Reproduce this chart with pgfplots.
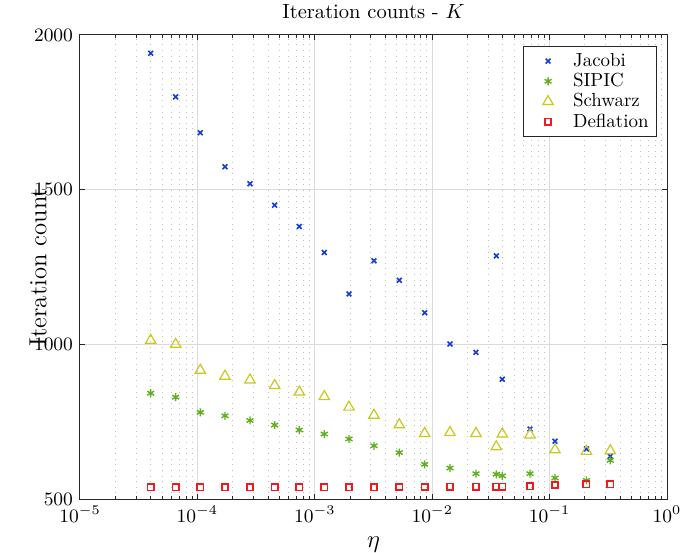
\RequirePackage{fix-cm}
\documentclass[border=0pt]{standalone}
\usepackage{fontspec}
\usepackage{graphicx}
\usepackage{pgfplots}
\pgfplotsset{compat=1.18}

\definecolor{cJac}{RGB}{20,60,210}
\definecolor{cSip}{RGB}{95,175,30}
\definecolor{cSch}{RGB}{200,200,30}
\definecolor{cDef}{RGB}{240,25,30}
\definecolor{axgray}{gray}{0.15}

% marker-only legend images with room on both sides of the mark
\pgfplotsset{
  mklegend/.style={legend image code/.code={%
    \path[draw=none, fill=none] (-10.5bp,-1bp) rectangle (10.5bp,1bp);
    \draw[##1] plot coordinates {(0bp,0bp)};}},
}

% eta, Jacobi, SIPIC, Schwarz, Deflation
\pgfplotstableread{
eta       jac   sip  sch   def
4.00e-5   1941  842  1013  538
6.53e-5   1800  829  1000  538
1.059e-4  1684  780  916   538
1.718e-4  1574  769  897   538
2.805e-4  1519  754  885   538
4.553e-4  1450  739  867   538
7.379e-4  1381  723  846   538
1.204e-3  1297  710  831   538
1.956e-3  1163  694  797   538
3.193e-3  1270  672  771   538
5.245e-3  1207  650  740   539
8.63e-3   1102  612  712   539
1.418e-2  1001  600  715   540
2.36e-2   974   582  712   540
3.516e-2  1286  580  669   540
3.955e-2  887   575  710   540
6.81e-2   726   582  707   541
0.1112    687   568  659   545
0.2062    662   560  654   547
0.3289    638   625  656   548
}\iters

\begin{document}
\begin{tikzpicture}
\path[use as bounding box] (-40bp,-27bp) rectangle (301bp,249.5bp);
\begin{axis}[
  at={(0,0)}, anchor=south west,
  scale only axis, width=293.5bp, height=232bp,
  clip mode=individual,
  xmode=log, xmin=1e-5, xmax=1, ymin=500, ymax=2000,
  ytick={500,1000,1500,2000},
  xtick={1e-5,1e-4,1e-3,1e-2,1e-1,1},
  /pgf/number format/1000 sep={},
  axis line style={axgray, line width=0.5bp},
  every tick/.style={axgray, line width=0.5bp},
  tick align=inside, tick pos=both,
  major tick length=2.6bp, minor tick length=1.5bp,
  xmajorgrids, ymajorgrids, xminorgrids,
  major grid style={gray!28, line width=0.5bp},
  minor grid style={black!25, line width=0.5bp, dash pattern=on 0.5bp off 2.3bp},
  tick label style={font=\fontsize{9.5}{11}\selectfont},
  title={Iteration counts - $K$},
  every axis title/.style={at={(axis description cs:0.5,1.0496)}, anchor=center,
    font=\fontsize{10.3}{12}\selectfont},
  xlabel={$\eta$},
  every axis x label/.style={at={(axis description cs:0.5,-0.0991)}, anchor=center,
    font=\fontsize{12.4}{14}\selectfont},
  legend style={at={(axis description cs:0.983,0.976)}, anchor=north east,
    draw=axgray, line width=0.5bp, fill=white,
    font=\fontsize{9.5}{11}\selectfont, inner xsep=2bp, inner ysep=1.2bp,
    row sep=-2bp},
  legend cell align=left,
  mark options={solid},
]
\addplot[only marks, mklegend, cJac, mark=x, mark size=1.7bp, mark options={line width=0.8bp}] table[x=eta, y=jac] {\iters};
\addlegendentry{Jacobi}
\addplot[only marks, mklegend, cSip, mark=asterisk, mark size=2bp, mark options={line width=0.7bp}] table[x=eta, y=sip] {\iters};
\addlegendentry{SIPIC}
\addplot[only marks, mklegend, cSch, mark=triangle, mark size=3bp, mark options={line width=0.6bp}] table[x=eta, y=sch] {\iters};
\addlegendentry{Schwarz}
\addplot[only marks, mklegend, cDef, mark=square, mark size=1.6bp, mark options={line width=0.8bp}] table[x=eta, y=def] {\iters};
\addlegendentry{Deflation}
\node[anchor=center, inner sep=0pt, font=\fontsize{12.4}{14}\selectfont]
  at (axis description cs:-0.0716,0.5) {\rotatebox{90}{Iteration count}};
\end{axis}
\end{tikzpicture}
\end{document}
